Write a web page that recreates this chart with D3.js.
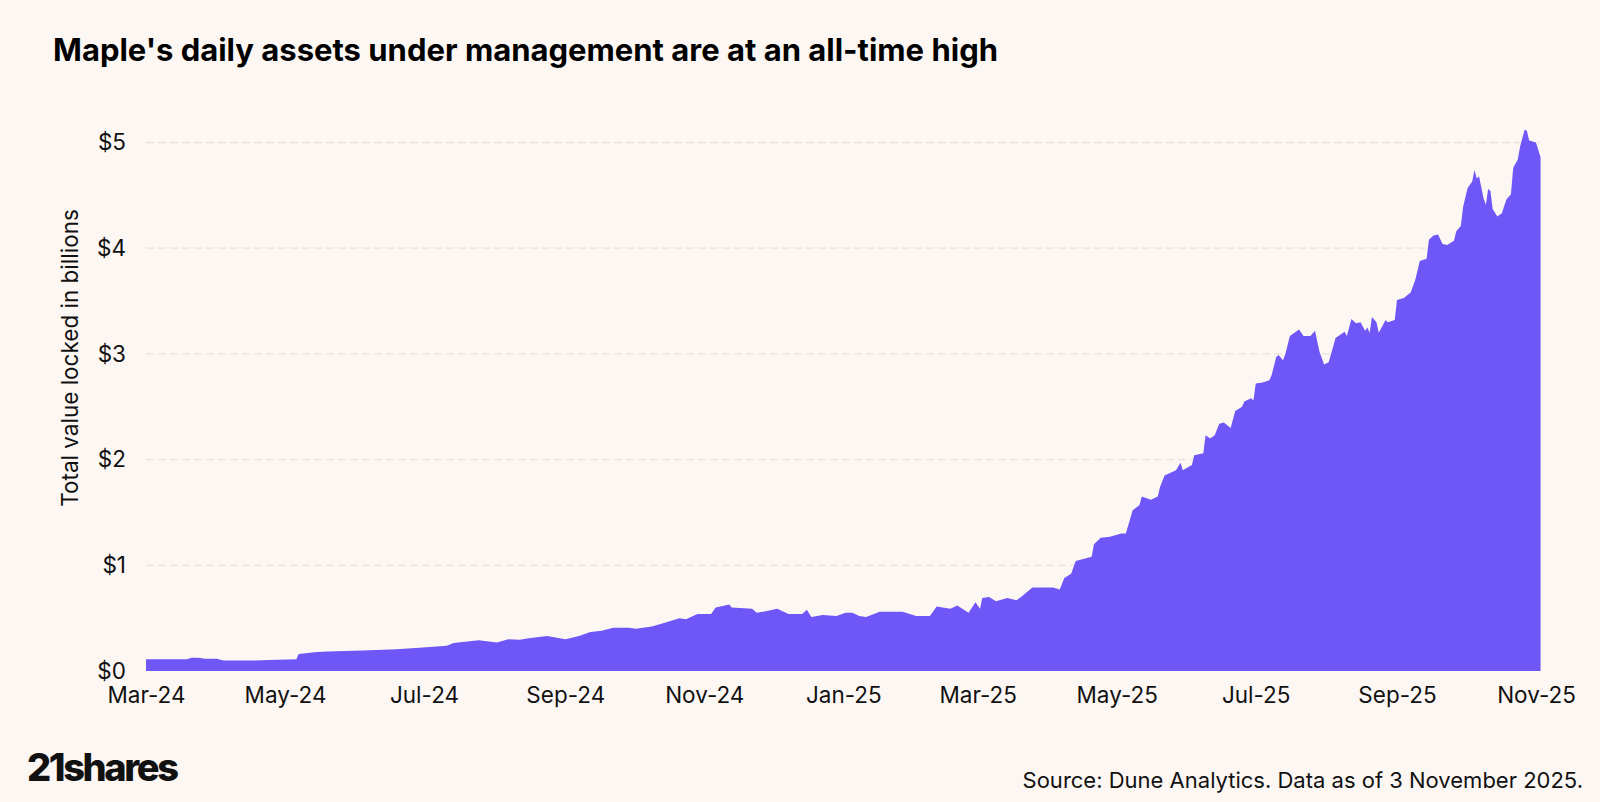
<!DOCTYPE html>
<html>
<head>
<meta charset="utf-8">
<script src="https://cdn.jsdelivr.net/npm/d3@7"></script>
<style>
  html, body { margin: 0; padding: 0; background: #fdf7f4; }
  svg { display: block; }
  text { font-family: Inter, "Noto Sans", sans-serif; }
</style>
</head>
<body>
<svg id="chart" width="1600" height="802"></svg>
<script>
// ---- data ----
const dates = [
  "2024-03-01","2024-03-11","2024-03-19","2024-03-21","2024-03-24","2024-03-27","2024-04-01","2024-04-04",
  "2024-04-18","2024-04-24","2024-05-06","2024-05-07","2024-05-15","2024-05-20","2024-06-04","2024-06-19",
  "2024-06-29","2024-07-11","2024-07-14","2024-07-25","2024-08-02","2024-08-07","2024-08-12","2024-08-16",
  "2024-08-24","2024-09-01","2024-09-03","2024-09-07","2024-09-12","2024-09-17","2024-09-22","2024-09-29",
  "2024-10-02","2024-10-09","2024-10-15","2024-10-21","2024-10-24","2024-10-29","2024-11-04","2024-11-06",
  "2024-11-12","2024-11-13","2024-11-22","2024-11-24","2024-11-29","2024-12-03","2024-12-08","2024-12-14",
  "2024-12-16","2024-12-18","2024-12-23","2024-12-29","2025-01-02","2025-01-05","2025-01-08","2025-01-11",
  "2025-01-17","2025-01-27","2025-02-02","2025-02-08","2025-02-11","2025-02-17","2025-02-20","2025-02-25",
  "2025-02-28","2025-03-02","2025-03-03","2025-03-06","2025-03-09","2025-03-14","2025-03-18","2025-03-20",
  "2025-03-25","2025-04-03","2025-04-06","2025-04-08","2025-04-11","2025-04-13","2025-04-20","2025-04-21",
  "2025-04-24","2025-04-28","2025-05-03","2025-05-05","2025-05-08","2025-05-11","2025-05-12","2025-05-16",
  "2025-05-19","2025-05-20","2025-05-22","2025-05-27","2025-05-29","2025-05-30","2025-06-03","2025-06-04",
  "2025-06-08","2025-06-09","2025-06-11","2025-06-13","2025-06-15","2025-06-17","2025-06-20","2025-06-22",
  "2025-06-25","2025-06-26","2025-06-29","2025-06-30","2025-07-01","2025-07-04","2025-07-07","2025-07-08",
  "2025-07-10","2025-07-11","2025-07-13","2025-07-14","2025-07-16","2025-07-20","2025-07-22","2025-07-25",
  "2025-07-27","2025-07-29","2025-07-31","2025-08-02","2025-08-04","2025-08-05","2025-08-09","2025-08-10",
  "2025-08-12","2025-08-14","2025-08-16","2025-08-18","2025-08-19","2025-08-20","2025-08-21","2025-08-23",
  "2025-08-24","2025-08-27","2025-08-28","2025-08-31","2025-09-01","2025-09-04","2025-09-07","2025-09-09",
  "2025-09-11","2025-09-14","2025-09-15","2025-09-17","2025-09-19","2025-09-21","2025-09-23","2025-09-26",
  "2025-09-27","2025-09-29","2025-09-30","2025-10-02","2025-10-04","2025-10-05","2025-10-06","2025-10-07",
  "2025-10-09","2025-10-10","2025-10-11","2025-10-12","2025-10-13","2025-10-15","2025-10-17","2025-10-19",
  "2025-10-21","2025-10-22","2025-10-24","2025-10-25","2025-10-27","2025-10-28","2025-10-29","2025-11-01",
  "2025-11-03"
];
const tvlBillions = [
  0.11,0.11,0.11,0.125,0.126,0.115,0.115,0.10,
  0.10,0.105,0.11,0.16,0.18,0.185,0.195,0.205,
  0.22,0.24,0.265,0.29,0.27,0.30,0.295,0.31,
  0.33,0.30,0.31,0.33,0.37,0.38,0.41,0.41,
  0.40,0.42,0.46,0.50,0.49,0.54,0.54,0.60,
  0.63,0.60,0.59,0.55,0.57,0.59,0.54,0.54,
  0.58,0.51,0.53,0.52,0.55,0.55,0.52,0.51,
  0.56,0.56,0.52,0.52,0.61,0.59,0.62,0.55,
  0.65,0.59,0.69,0.70,0.66,0.69,0.67,0.70,
  0.79,0.79,0.77,0.88,0.92,1.04,1.08,1.20,
  1.26,1.27,1.30,1.30,1.52,1.57,1.65,1.62,
  1.65,1.74,1.85,1.90,1.97,1.90,1.95,2.04,
  2.06,2.23,2.20,2.23,2.34,2.35,2.30,2.46,
  2.50,2.55,2.58,2.56,2.72,2.73,2.75,2.80,
  2.97,2.99,2.94,3.00,3.17,3.23,3.17,3.17,
  3.22,3.02,2.90,2.92,3.07,3.15,3.21,3.17,
  3.33,3.29,3.30,3.22,3.25,3.20,3.35,3.30,
  3.20,3.32,3.30,3.32,3.51,3.53,3.58,3.70,
  3.88,3.90,4.08,4.12,4.13,4.04,4.03,4.07,
  4.16,4.21,4.39,4.57,4.63,4.74,4.66,4.68,
  4.47,4.41,4.56,4.54,4.37,4.30,4.33,4.46,
  4.51,4.76,4.84,4.96,5.12,5.11,5.02,5.00,
  4.86
];
const yTickValues = [0, 1, 2, 3, 4, 5];
const xTickLabels = ["Mar-24","May-24","Jul-24","Sep-24","Nov-24","Jan-25","Mar-25","May-25","Jul-25","Sep-25","Nov-25"];
const titleText = "Maple's daily assets under management are at an all-time high";
const yAxisTitle = "Total value locked in billions";
const sourceText = "Source: Dune Analytics. Data as of 3 November 2025.";
const logoText = "21shares";

// ---- drawing ----
const parse = d3.timeParse("%Y-%m-%d");
const data = dates.map((d, i) => ({ date: parse(d), value: tvlBillions[i] }));

const svg = d3.select("#chart");
svg.append("rect").attr("width", 1600).attr("height", 802).attr("fill", "#fdf7f4");

const x = d3.scaleTime()
  .domain([parse("2024-03-01"), parse("2025-11-01")])
  .range([146, 1536]);
const y = d3.scaleLinear().domain([0, 5]).range([671, 142.5]);

// gridlines
svg.append("g").selectAll("line")
  .data(yTickValues.filter(v => v > 0))
  .join("line")
  .attr("x1", 146).attr("x2", 1540)
  .attr("y1", d => y(d)).attr("y2", d => y(d))
  .attr("stroke", "#e7e1dd").attr("stroke-width", 1.3)
  .attr("stroke-dasharray", "8,4");

// area
const area = d3.area()
  .x(d => x(d.date))
  .y0(y(0))
  .y1(d => y(d.value));
svg.append("path").datum(data)
  .attr("d", area)
  .attr("fill", "#6e56f7");

const tickFont = 22.5;

// y axis
const yAxis = d3.axisLeft(y).tickValues(yTickValues).tickFormat(d => "$" + d).tickSize(0).tickPadding(0);
const gy = svg.append("g").attr("transform", "translate(126,0)").call(yAxis);
gy.select(".domain").remove();
gy.selectAll("text").attr("font-size", tickFont).attr("fill", "#111").attr("font-family", "Inter, sans-serif");

// x axis
const xTicks = xTickLabels.map(s => d3.timeParse("%b-%y")(s));
const xAxis = d3.axisBottom(x).tickValues(xTicks).tickFormat(d3.timeFormat("%b-%y")).tickSize(0).tickPadding(0);
const gx = svg.append("g").attr("transform", "translate(0,687)").call(xAxis);
gx.select(".domain").remove();
gx.selectAll("text").attr("font-size", tickFont).attr("fill", "#111").attr("font-family", "Inter, sans-serif");

// y axis title
svg.append("text")
  .attr("transform", "translate(78,358) rotate(-90)")
  .attr("text-anchor", "middle")
  .attr("font-size", tickFont).attr("fill", "#111")
  .text(yAxisTitle);

// title
svg.append("text")
  .attr("x", 53).attr("y", 61)
  .attr("font-size", 31).attr("font-weight", 700).attr("fill", "#000")
  .text(titleText);

// source
svg.append("text")
  .attr("x", 1583).attr("y", 788)
  .attr("text-anchor", "end")
  .attr("font-size", 22).attr("fill", "#111")
  .text(sourceText);

// logo
svg.append("text")
  .attr("x", 27).attr("y", 781)
  .attr("font-size", 38).attr("font-weight", 800).attr("fill", "#111")
  .attr("letter-spacing", -2.4)
  .text(logoText);
</script>
</body>
</html>
